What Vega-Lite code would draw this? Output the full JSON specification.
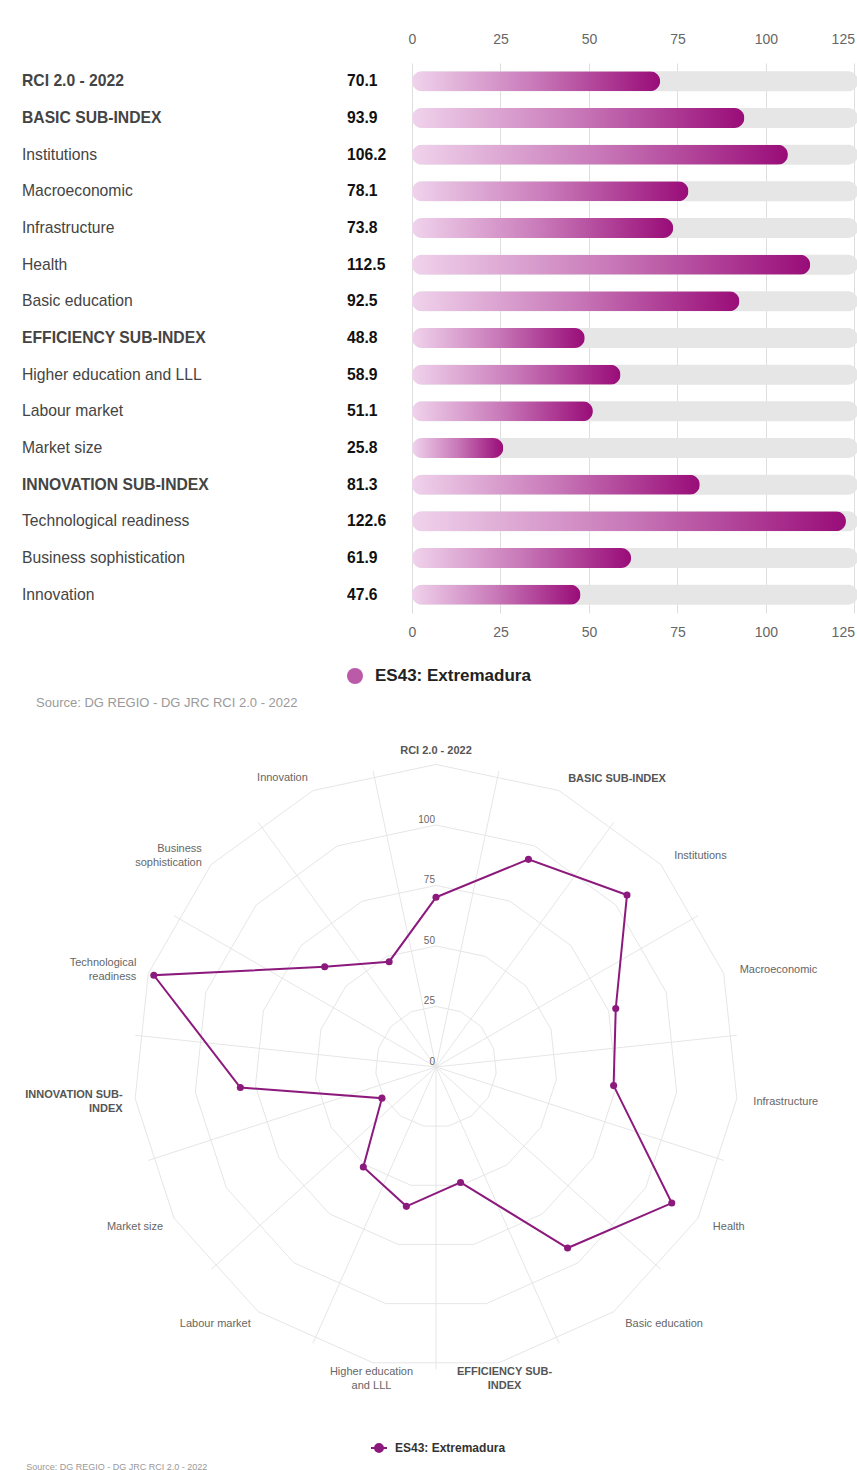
{
  "$schema": "https://vega.github.io/schema/vega-lite/v6.json",
  "background": "white",
  "padding": {"left": 22, "top": 32, "right": 0, "bottom": 0},
  "spacing": 30,
  "config": {
    "font": "Liberation Sans",
    "view": {"stroke": null},
    "axis": {"domain": false, "ticks": false},
    "text": {"fontSize": 11, "lineBreak": "\n", "lineHeight": 14, "baseline": "middle"}
  },
  "resolve": {"scale": {"color": "independent"}, "legend": {"color": "independent"}},
  "datasets": {
    "scores": [
      {"i": 0, "cat": "RCI 2.0 - 2022", "rl": "RCI 2.0 - 2022", "value": 70.1, "region": "ES43: Extremadura"},
      {"i": 1, "cat": "BASIC SUB-INDEX", "rl": "BASIC SUB-INDEX", "value": 93.9, "region": "ES43: Extremadura"},
      {"i": 2, "cat": "Institutions", "rl": "Institutions", "value": 106.2, "region": "ES43: Extremadura"},
      {"i": 3, "cat": "Macroeconomic", "rl": "Macroeconomic", "value": 78.1, "region": "ES43: Extremadura"},
      {"i": 4, "cat": "Infrastructure", "rl": "Infrastructure", "value": 73.8, "region": "ES43: Extremadura"},
      {"i": 5, "cat": "Health", "rl": "Health", "value": 112.5, "region": "ES43: Extremadura"},
      {"i": 6, "cat": "Basic education", "rl": "Basic education", "value": 92.5, "region": "ES43: Extremadura"},
      {"i": 7, "cat": "EFFICIENCY SUB-INDEX", "rl": "EFFICIENCY SUB-\nINDEX", "value": 48.8, "region": "ES43: Extremadura"},
      {"i": 8, "cat": "Higher education and LLL", "rl": "Higher education\nand LLL", "value": 58.9, "region": "ES43: Extremadura"},
      {"i": 9, "cat": "Labour market", "rl": "Labour market", "value": 51.1, "region": "ES43: Extremadura"},
      {"i": 10, "cat": "Market size", "rl": "Market size", "value": 25.8, "region": "ES43: Extremadura"},
      {"i": 11, "cat": "INNOVATION SUB-INDEX", "rl": "INNOVATION SUB-\nINDEX", "value": 81.3, "region": "ES43: Extremadura"},
      {"i": 12, "cat": "Technological readiness", "rl": "Technological\nreadiness", "value": 122.6, "region": "ES43: Extremadura"},
      {"i": 13, "cat": "Business sophistication", "rl": "Business\nsophistication", "value": 61.9, "region": "ES43: Extremadura"},
      {"i": 14, "cat": "Innovation", "rl": "Innovation", "value": 47.6, "region": "ES43: Extremadura"}
    ],
    "rings": [
      {"level": 25, "i": [0,1,2,3,4,5,6,7,8,9,10,11,12,13,14]},
      {"level": 50, "i": [0,1,2,3,4,5,6,7,8,9,10,11,12,13,14]},
      {"level": 75, "i": [0,1,2,3,4,5,6,7,8,9,10,11,12,13,14]},
      {"level": 100, "i": [0,1,2,3,4,5,6,7,8,9,10,11,12,13,14]},
      {"level": 125, "i": [0,1,2,3,4,5,6,7,8,9,10,11,12,13,14]}
    ],
    "ringLabels": [{"level": 0}, {"level": 25}, {"level": 50}, {"level": 75}, {"level": 100}]
  },
  "vconcat": [
    {
      "width": 446,
      "height": 550,
      "data": {"name": "scores"},
      "transform": [{"calculate": "upper(datum.cat) == datum.cat", "as": "bold"}],
      "title": {"text": "Source: DG REGIO - DG JRC RCI 2.0 - 2022", "orient": "bottom", "anchor": "start", "frame": "bounds", "fontSize": 13, "fontWeight": "normal", "color": "#9a9a9a", "dx": 14, "offset": 13},
      "resolve": {"axis": {"x": "independent"}},
      "layer": [
        {
          "mark": {"type": "bar", "size": 20, "cornerRadius": 10, "fill": "#e6e6e6"},
          "encoding": {
            "y": {"field": "cat", "type": "nominal", "sort": null, "scale": {"paddingInner": 0, "paddingOuter": 0}, "axis": null},
            "x": {"datum": 126, "type": "quantitative", "scale": {"domain": [0, 126], "nice": false}, "axis": null}
          }
        },
        {
          "mark": {"type": "bar", "size": 20, "cornerRadius": 10,
            "fill": {"gradient": "linear", "x1": 0, "y1": 0, "x2": 1, "y2": 0,
              "stops": [{"offset": 0, "color": "#f0d3ec"}, {"offset": 0.5, "color": "#c878b8"}, {"offset": 1, "color": "#990c78"}]}},
          "encoding": {
            "y": {"field": "cat", "type": "nominal", "sort": null, "axis": null},
            "x": {"field": "value", "type": "quantitative",
              "axis": {"title": null, "orient": "top", "values": [0, 25, 50, 75, 100, 125], "labelFontSize": 14, "labelColor": "#666", "labelPadding": 17, "labelFlush": false,
                "labelAlign": {"condition": {"test": "datum.value == 125", "value": "right"}, "value": "center"},
                "grid": true, "gridColor": "#dedede", "gridWidth": 1}}
          }
        },
        {
          "mark": {"type": "text", "align": "left", "baseline": "middle", "dx": -65, "fontSize": 15.7, "fontWeight": "bold", "fill": "#111"},
          "encoding": {
            "y": {"field": "cat", "type": "nominal", "sort": null, "axis": null},
            "x": {"datum": 0, "type": "quantitative", "axis": null},
            "text": {"field": "value", "type": "quantitative", "format": ".1f"}
          }
        },
        {
          "transform": [{"filter": "datum.bold"}],
          "mark": {"type": "text", "align": "left", "baseline": "middle", "dx": -390, "fontSize": 15.7, "fontWeight": "bold", "fill": "#444"},
          "encoding": {
            "y": {"field": "cat", "type": "nominal", "sort": null, "axis": null},
            "x": {"datum": 0, "type": "quantitative", "axis": null},
            "text": {"field": "cat", "type": "nominal"}
          }
        },
        {
          "transform": [{"filter": "!datum.bold"}],
          "mark": {"type": "text", "align": "left", "baseline": "middle", "dx": -390, "fontSize": 15.7, "fill": "#444"},
          "encoding": {
            "y": {"field": "cat", "type": "nominal", "sort": null, "axis": null},
            "x": {"datum": 0, "type": "quantitative", "axis": null},
            "text": {"field": "cat", "type": "nominal"}
          }
        },
        {
          "mark": {"type": "point", "filled": true, "size": 0},
          "encoding": {
            "y": {"field": "cat", "type": "nominal", "sort": null, "axis": null},
            "x": {"field": "value", "type": "quantitative",
              "axis": {"title": null, "orient": "bottom", "values": [0, 25, 50, 75, 100, 125], "labelFontSize": 14, "labelColor": "#666", "labelPadding": 12.5, "labelFlush": false,
                "labelAlign": {"condition": {"test": "datum.value == 125", "value": "right"}, "value": "center"}, "grid": false}},
            "color": {"field": "region", "type": "nominal", "scale": {"range": ["#bb5aa7"]},
              "legend": {"title": null, "orient": "none", "legendX": -66, "legendY": 604, "padding": 0, "symbolType": "circle", "symbolSize": 256, "symbolOpacity": 1,
                "labelFontSize": 17, "labelFontWeight": "bold", "labelColor": "#222", "labelOffset": 11}}
          }
        }
      ]
    },
    {
      "width": 440,
      "height": 657,
      "title": {"text": "Source: DG REGIO - DG JRC RCI 2.0 - 2022", "orient": "bottom", "anchor": "start", "frame": "bounds", "fontSize": 9, "fontWeight": "normal", "color": "#999", "dx": 1, "offset": 7},
      "layer": [
        {
          "data": {"name": "scores"},
          "transform": [
            {"calculate": "(datum.i + 0.5) * 2 * PI / 15", "as": "a"},
            {"calculate": "125 * sin(datum.a)", "as": "sx"},
            {"calculate": "125 * cos(datum.a)", "as": "sy"},
            {"calculate": "0", "as": "o"}
          ],
          "mark": {"type": "rule", "stroke": "#e6e6e6", "strokeWidth": 1},
          "encoding": {
            "x": {"field": "o", "type": "quantitative", "scale": {"domain": [-9.917, 171.9], "nice": false, "zero": false}, "axis": null},
            "y": {"field": "o", "type": "quantitative", "scale": {"domain": [-136.4, 135.1], "nice": false, "zero": false}, "axis": null},
            "x2": {"field": "sx"},
            "y2": {"field": "sy"}
          }
        },
        {
          "data": {"name": "rings"},
          "transform": [
            {"flatten": ["i"]},
            {"calculate": "datum.i * 2 * PI / 15", "as": "a"},
            {"calculate": "datum.level * sin(datum.a)", "as": "rx"},
            {"calculate": "datum.level * cos(datum.a)", "as": "ry"}
          ],
          "mark": {"type": "line", "interpolate": "linear-closed", "stroke": "#e6e6e6", "strokeWidth": 1},
          "encoding": {
            "x": {"field": "rx", "type": "quantitative", "axis": null},
            "y": {"field": "ry", "type": "quantitative", "axis": null},
            "detail": {"field": "level", "type": "nominal"},
            "order": {"field": "i", "type": "quantitative"}
          }
        },
        {
          "data": {"name": "ringLabels"},
          "transform": [{"calculate": "0", "as": "o"}],
          "mark": {"type": "text", "align": "right", "baseline": "bottom", "dx": -1, "fontSize": 10, "fill": "#666"},
          "encoding": {
            "x": {"field": "o", "type": "quantitative", "axis": null},
            "y": {"field": "level", "type": "quantitative", "axis": null},
            "text": {"field": "level", "type": "quantitative"}
          }
        },
        {
          "data": {"name": "scores"},
          "transform": [
            {"calculate": "datum.i * 2 * PI / 15", "as": "a"},
            {"calculate": "datum.value * sin(datum.a)", "as": "px"},
            {"calculate": "datum.value * cos(datum.a)", "as": "py"}
          ],
          "layer": [
            {
              "mark": {"type": "line", "interpolate": "linear-closed", "strokeWidth": 2},
              "encoding": {
                "x": {"field": "px", "type": "quantitative", "axis": null},
                "y": {"field": "py", "type": "quantitative", "axis": null},
                "order": {"field": "i", "type": "quantitative"},
                "color": {"field": "region", "type": "nominal", "scale": {"range": ["#8c1a7d"]},
                  "legend": {"title": null, "orient": "none", "legendX": -42, "legendY": 699, "padding": 0,
                    "symbolType": "M-1,0H1M-0.5,0A0.5,0.5,0,1,0,0.5,0A0.5,0.5,0,1,0,-0.5,0Z", "symbolSize": 256,
                    "symbolFillColor": "#8c1a7d", "symbolStrokeColor": "#8c1a7d", "symbolStrokeWidth": 2, "symbolOpacity": 1,
                    "labelFontSize": 12, "labelFontWeight": "bold", "labelColor": "#333", "labelOffset": 7}}
              }
            },
            {
              "mark": {"type": "point", "filled": true, "size": 50, "opacity": 1},
              "encoding": {
                "x": {"field": "px", "type": "quantitative", "axis": null},
                "y": {"field": "py", "type": "quantitative", "axis": null},
                "color": {"field": "region", "type": "nominal"}
              }
            }
          ]
        },
        {
          "data": {"name": "scores"},
          "transform": [
            {"calculate": "datum.i * 2 * PI / 15", "as": "a"},
            {"calculate": "130.2 * sin(datum.a)", "as": "lx"},
            {"calculate": "130.2 * cos(datum.a)", "as": "ly"}
          ],
          "encoding": {
            "x": {"field": "lx", "type": "quantitative", "axis": null},
            "y": {"field": "ly", "type": "quantitative", "axis": null},
            "text": {"field": "rl", "type": "nominal"}
          },
          "layer": [
            {"transform": [{"filter": "datum.i == 0"}],
             "mark": {"type": "text", "align": "center", "dy": -1, "fontWeight": "bold", "fill": "#555"}},
            {"transform": [{"filter": "datum.i == 1"}],
             "mark": {"type": "text", "align": "left", "dx": 4, "fontWeight": "bold", "fill": "#555"}},
            {"transform": [{"filter": "datum.i == 2 || datum.i == 3"}],
             "mark": {"type": "text", "align": "left", "dx": 4, "fill": "#666"}},
            {"transform": [{"filter": "datum.i >= 4 && datum.i <= 6"}],
             "mark": {"type": "text", "align": "left", "dx": 4, "dy": 2.5, "fill": "#666"}},
            {"transform": [{"filter": "datum.i == 7"}],
             "mark": {"type": "text", "align": "center", "dx": 3, "dy": -3, "fontWeight": "bold", "fill": "#555"}},
            {"transform": [{"filter": "datum.i == 8"}],
             "mark": {"type": "text", "align": "center", "dx": 1, "dy": -3, "fill": "#666"}},
            {"transform": [{"filter": "datum.i == 9 || datum.i == 10"}],
             "mark": {"type": "text", "align": "right", "dy": 2.5, "fill": "#666"}},
            {"transform": [{"filter": "datum.i == 11"}],
             "mark": {"type": "text", "align": "right", "dy": -5, "fontWeight": "bold", "fill": "#555"}},
            {"transform": [{"filter": "datum.i == 12 || datum.i == 13"}],
             "mark": {"type": "text", "align": "right", "dy": -7, "fill": "#666"}},
            {"transform": [{"filter": "datum.i == 14"}],
             "mark": {"type": "text", "align": "right", "dy": -1, "fill": "#666"}}
          ]
        }
      ]
    }
  ]
}
